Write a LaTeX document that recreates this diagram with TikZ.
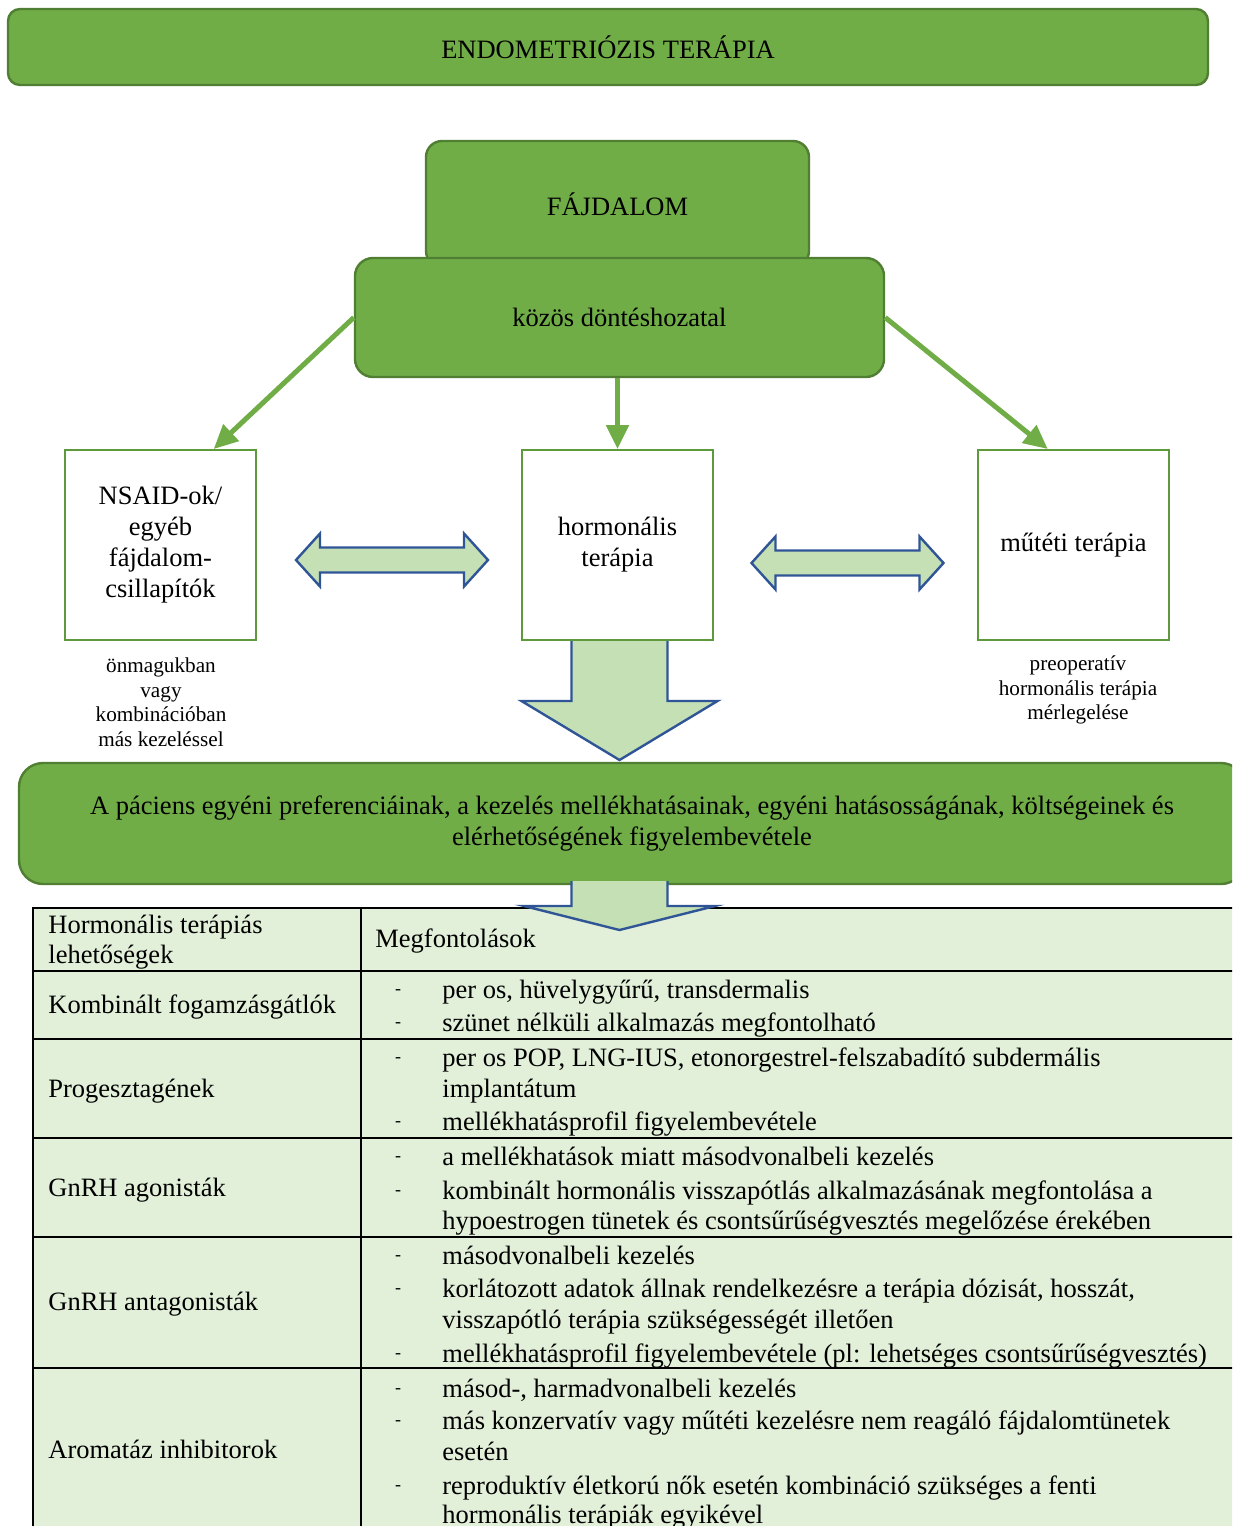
\documentclass[tikz,border=0pt]{standalone}
\usepackage{fontspec}
\setmainfont{Liberation Serif}
\usetikzlibrary{arrows.meta}

\definecolor{accgreen}{HTML}{70AD47}
\definecolor{accdark}{HTML}{507E32}
\definecolor{boxline}{HTML}{5E9A3C}
\definecolor{paleleaf}{HTML}{C5E0B4}
\definecolor{arrblue}{HTML}{2F5597}
\definecolor{tablegreen}{HTML}{E2EFD9}

\begin{document}
\begin{tikzpicture}[x=0.5pt,y=-0.5pt,font=\fontsize{13.25}{15.5}\selectfont,
        green box/.style={fill=accgreen,draw=accdark,line width=1.2pt,inner sep=0pt,align=center},
        white box/.style={fill=white,draw=boxline,line width=1pt,inner sep=0pt,align=center,
            minimum width=95.5pt,minimum height=95pt},
        note/.style={font=\fontsize{10.6}{12.25}\selectfont,align=center,inner sep=0pt},
        flow/.style={-{Triangle[length=12pt,width=11pt]},accgreen,line width=2.5pt},
        block arrow/.style={fill=paleleaf,draw=arrblue,line width=1.2pt,line join=miter},
        cell/.style={anchor=mid west,inner sep=0pt,yshift=-2pt},
        grid line/.style={line width=1.2pt}]

    \useasboundingbox (0,0) rectangle (1232,1526);
    \clip (0,0) rectangle (1232,1526);

    \node[green box, rounded corners=6pt, minimum width=600pt, minimum height=38pt] (title) at (608,47) {ENDOMETRIÓZIS TERÁPIA};
    \node[green box, rounded corners=8pt, minimum width=191.5pt, minimum height=63pt] (pain) at (617.5,204) {FÁJDALOM};
    \node[green box, rounded corners=9pt, minimum width=264.5pt, minimum height=59.5pt] (shared) at (619.5,317.5) {közös döntéshozatal};

    \node[white box] (nsaid) at (160.5,545) {NSAID-ok/\\egyéb\\fájdalom-\\csillapítók};
    \node[white box] (horm) at (617.5,545) {hormonális\\terápia};
    \node[white box] (surg) at (1073.5,545) {műtéti terápia};

    \node[note] (nsaidnote) at (161,702) {önmagukban\\vagy\\kombinációban\\más kezeléssel};
    \node[note] (surgnote) at (1078,690) {preoperatív\\hormonális terápia\\mérlegelése};

    \draw[flow] (shared.west) -- (nsaid.61);
    \draw[flow] (horm.north |- shared.south) -- (horm.north);
    \draw[flow] (shared.east) -- (surg.105);

    % two-way block arrows between the options
    \draw[block arrow, shift={(392,560)}] (-96,0) -- (-72,-26.5) -- (-72,-12.5) -- (72,-12.5) -- (72,-26.5)
        -- (96,0) -- (72,26.5) -- (72,12.5) -- (-72,12.5) -- (-72,26.5) -- cycle;
    \draw[block arrow, shift={(847.5,563)}] (-96,0) -- (-72,-26.5) -- (-72,-12.5) -- (72,-12.5) -- (72,-26.5)
        -- (96,0) -- (72,26.5) -- (72,12.5) -- (-72,12.5) -- (-72,26.5) -- cycle;

    \draw[block arrow, shift={(619.5,641)}] (-48,0) -- (-48,60) -- (-98,60) -- (0,119) -- (98,60) -- (48,60) -- (48,0);

    \node[green box, rounded corners=12pt, minimum width=613pt, minimum height=60.5pt] (concl) at (632,823.5)
        {A páciens egyéni preferenciáinak, a kezelés mellékhatásainak, egyéni hatásosságának, költségeinek és\\elérhetőségének figyelembevétele};

    % table
    \fill[tablegreen] (33,908) rectangle (1300,1600);
    \draw[grid line] (33,1600) -- (33,908) -- (1300,908);
    \draw[grid line] (361,908) -- (361,1600);
    \foreach \y in {971,1039,1138,1237,1368}
        \draw[grid line] (33,\y) -- (1300,\y);

    \node[cell] (head1a) at (48,925) {Hormonális terápiás};
    \node[cell] (head1b) at (48,955) {lehetőségek};
    \node[cell] (head2) at (375,939) {Megfontolások};

    \foreach \y/\t in {1005/Kombinált fogamzásgátlók, 1089/Progesztagének, 1188/GnRH agonisták,
            1302/GnRH antagonisták, 1450/Aromatáz inhibitorok}
        \node[cell] (opt\y) at (48,\y) {\t};

    \foreach \y in {990,1023,1058,1122,1157,1191,1256,1289,1354,1389,1421,1486}
        \node[inner sep=0pt,font=\fontsize{9}{9}\selectfont] (dash\y) at (398,\y+2) {-};

    \foreach \y/\t in {990/{per os, hüvelygyűrű, transdermalis},
            1023/{szünet nélküli alkalmazás megfontolható},
            1058/{per os POP, LNG-IUS, etonorgestrel-felszabadító subdermális},
            1089/{implantátum},
            1122/{mellékhatásprofil figyelembevétele},
            1157/{a mellékhatások miatt másodvonalbeli kezelés},
            1191/{kombinált hormonális visszapótlás alkalmazásának megfontolása a},
            1221/{hypoestrogen tünetek és csontsűrűségvesztés megelőzése érekében},
            1256/{másodvonalbeli kezelés},
            1289/{korlátozott adatok állnak rendelkezésre a terápia dózisát, hosszát,},
            1320/{visszapótló terápia szükségességét illetően},
            1354/{mellékhatásprofil figyelembevétele (pl: lehetséges csontsűrűségvesztés)},
            1389/{másod-, harmadvonalbeli kezelés},
            1421/{más konzervatív vagy műtéti kezelésre nem reagáló fájdalomtünetek},
            1452/{esetén},
            1486/{reproduktív életkorú nők esetén kombináció szükséges a fenti},
            1515/{hormonális terápiák egyikével}}
        \node[cell] (item\y) at (442,\y) {\t};

    \draw[block arrow, shift={(619.5,881)}] (-48,0) -- (-48,25) -- (-95.5,25) -- (0,49) -- (95.5,25) -- (48,25) -- (48,0);

\end{tikzpicture}
\end{document}
